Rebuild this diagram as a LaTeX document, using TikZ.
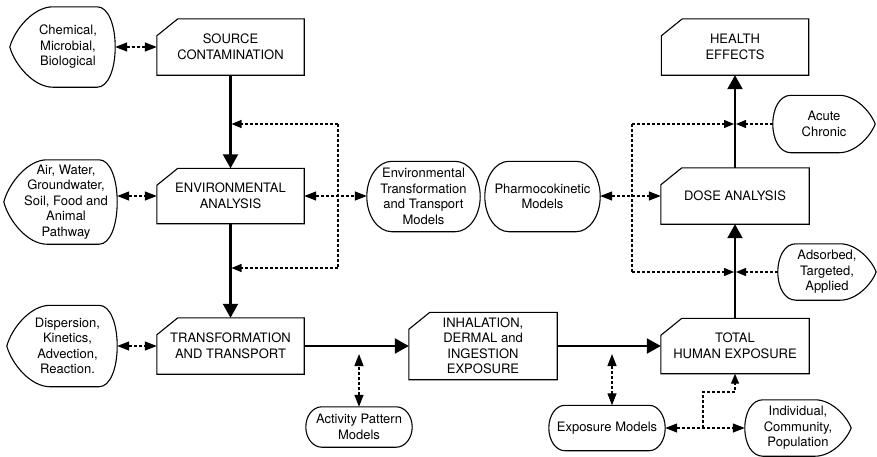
\documentclass[tikz,border=0pt]{standalone}
\usepackage{fontspec}
\setmainfont{TeX Gyre Heros}
\usetikzlibrary{arrows.meta,calc}

\tikzset{
  outline/.style={line width=1.1pt},
  txt/.style={font=\fontsize{13}{15.5}\selectfont, align=center, inner sep=0pt},
  mainbox/.style={txt, minimum width=147pt, minimum height=56pt},
  leaf/.style={txt},
  pill/.style={txt},
  mainarrow/.style={line width=2.2pt, -{Triangle[length=14pt,width=15pt]}},
  dotline/.style={line width=1.3pt, dash pattern=on 3pt off 2pt},
  dotboth/.style={dotline, {Triangle[length=12pt,width=9pt]}-{Triangle[length=12pt,width=9pt]}},
  dotto/.style={dotline, -{Triangle[length=10pt,width=8pt]}},
}

% box with the upper left corner cut off
\newcommand\chamferbox[1]{%
  \draw[outline] ($(#1.north west)+(0,17)$) -- ($(#1.north west)+(21,0)$)
    -- (#1.north east) -- (#1.south east) -- (#1.south west) -- cycle;}

% pointed on the left, rounded on the right
\newcommand\leafL[1]{%
  \draw[outline] ($(#1.west)+(-11,0)$)
    .. controls ($(#1.west)!0.45!(#1.north west)+(-6,0)$) and ($(#1.north west)+(13,0)$) .. ($(#1.north west)+(32,0)$)
    -- ($(#1.north east)+(-18,0)$)
    .. controls ($(#1.north east)+(-7,0)$) and ($(#1.east)!0.55!(#1.north east)$) .. (#1.east)
    .. controls ($(#1.east)!0.55!(#1.south east)$) and ($(#1.south east)+(-7,0)$) .. ($(#1.south east)+(-18,0)$)
    -- ($(#1.south west)+(32,0)$)
    .. controls ($(#1.south west)+(13,0)$) and ($(#1.west)!0.45!(#1.south west)+(-6,0)$) .. ($(#1.west)+(-11,0)$)
    -- cycle;}

% rounded on the left, pointed on the right
\newcommand\leafR[1]{%
  \draw[outline] (#1.east)
    .. controls ($(#1.east)!0.45!(#1.north east)+(-5,0)$) and ($(#1.north east)+(-20,0)$) .. ($(#1.north east)+(-36,0)$)
    -- ($(#1.north west)+(18,0)$)
    .. controls ($(#1.north west)+(7,0)$) and ($(#1.west)!0.55!(#1.north west)$) .. (#1.west)
    .. controls ($(#1.west)!0.55!(#1.south west)$) and ($(#1.south west)+(7,0)$) .. ($(#1.south west)+(18,0)$)
    -- ($(#1.south east)+(-36,0)$)
    .. controls ($(#1.south east)+(-20,0)$) and ($(#1.east)!0.45!(#1.south east)+(-5,0)$) .. (#1.east)
    -- cycle;}

% box with half-elliptic ends; #2 is the horizontal radius of the ends
\newcommand\pillshape[2]{%
  \draw[outline] ($(#1.north west)+(#2,0)$) -- ($(#1.north east)+(-#2,0)$)
    .. controls ($(#1.north east)+(-0.448*#2,0)$) and ($(#1.east)!0.552!(#1.north east)$) .. (#1.east)
    .. controls ($(#1.east)!0.552!(#1.south east)$) and ($(#1.south east)+(-0.448*#2,0)$) .. ($(#1.south east)+(-#2,0)$)
    -- ($(#1.south west)+(#2,0)$)
    .. controls ($(#1.south west)+(0.448*#2,0)$) and ($(#1.west)!0.552!(#1.south west)$) .. (#1.west)
    .. controls ($(#1.west)!0.552!(#1.north west)$) and ($(#1.north west)+(0.448*#2,0)$) .. ($(#1.north west)+(#2,0)$)
    -- cycle;}

\begin{document}
\begin{tikzpicture}[x=1pt, y=-1pt]
\useasboundingbox (0,0) rectangle (877,456);

% main chain
\node[mainbox] (src) at (230.5,47) {SOURCE\\CONTAMINATION};
\node[mainbox, minimum height=55pt] (env) at (230.5,196) {ENVIRONMENTAL\\ANALYSIS};
\node[mainbox] (tt) at (230.5,346) {TRANSFORMATION\\AND TRANSPORT};
\node[mainbox, minimum width=148pt, minimum height=67pt] (inh) at (483,346) {INHALATION,\\DERMAL and\\INGESTION\\EXPOSURE};
\node[mainbox, minimum width=148pt, minimum height=55pt] (tot) at (735,346) {TOTAL\\HUMAN EXPOSURE};
\node[mainbox, minimum width=148pt] (dose) at (735,196) {DOSE ANALYSIS};
\node[mainbox] (hea) at (735,47) {HEALTH\\EFFECTS};
\foreach \n in {src,env,tt,inh,tot,dose,hea} {\chamferbox{\n}}

% descriptors
\node[leaf, minimum width=94pt, minimum height=80pt] (chem) at (68,47) {Chemical,\\Microbial,\\Biological};
\node[leaf, minimum width=102pt, minimum height=84pt] (air) at (66,202) {Air, Water,\\Groundwater,\\Soil, Food and\\Animal\\Pathway};
\node[leaf, minimum width=99pt, minimum height=81pt] (disp) at (67.5,346) {Dispersion,\\Kinetics,\\Advection,\\Reaction.};
\foreach \n in {chem,air,disp} {\leafL{\n}}

\node[leaf, minimum width=102pt, minimum height=57pt] (acute) at (824,124) {Acute\\Chronic};
\node[leaf, minimum width=98pt, minimum height=56pt] (ads) at (827,272) {Adsorbed,\\Targeted,\\Applied};
\node[leaf, minimum width=106pt, minimum height=56pt] (ind) at (798,428) {Individual,\\Community,\\Population};
\foreach \n in {acute,ads,ind} {\leafR{\n}}

% models
\node[pill, minimum width=113pt, minimum height=70pt] (ett) at (423.5,196.5) {Environmental\\Transformation\\and Transport\\Models};
\node[pill, minimum width=115pt, minimum height=70pt] (pk) at (542.5,196.5) {Pharmocokinetic\\Models};
\node[pill, minimum width=106pt, minimum height=40pt] (act) at (359,427) {Activity Pattern\\Models};
\node[pill, minimum width=116pt, minimum height=45pt] (expm) at (607,428) {Exposure Models};
\pillshape{ett}{25}
\pillshape{pk}{24}
\pillshape{act}{16}
\pillshape{expm}{16}

% main flow
\draw[mainarrow] (src) -- (env);
\draw[mainarrow] (env) -- (tt);
\draw[mainarrow] (tt) -- (inh);
\draw[mainarrow] (inh) -- (tot);
\draw[mainarrow] (tot) -- (dose);
\draw[mainarrow] (dose) -- (hea);

% descriptor links
\draw[dotboth] (chem.east) -- (src.west);
\draw[dotboth] (env.west -| air.east) -- (env.west);
\draw[dotboth] (disp.east) -- (tt.west);

% environmental model feedback
\coordinate (fbLt) at (338,124);
\coordinate (fbLb) at (338,268);
\draw[dotboth] (env.east) -- (env.east -| ett.west);
\draw[dotline] (fbLt) -- (fbLb);
\draw[dotto] (fbLt) -- ($(fbLt -| src.south)+(1,0)$);
\draw[dotto] (fbLb) -- ($(fbLb -| env.south)+(1,0)$);

% pharmacokinetic feedback
\coordinate (fbRt) at (632,124);
\coordinate (fbRb) at (632,272);
\draw[dotboth] (dose.west -| pk.east) -- (dose.west);
\draw[dotline] (fbRt) -- (fbRb);
\draw[dotto] (fbRt) -- ($(fbRt -| hea.south)+(-1,0)$);
\draw[dotto] (fbRb) -- ($(fbRb -| dose.south)+(-1,0)$);
\draw[dotto] (acute.west) -- ($(acute.west -| hea.south)+(1,0)$);
\draw[dotto] (ads.west) -- ($(ads.west -| dose.south)+(1,0)$);

% exposure side models
\draw[dotboth] (act.north) -- ($(act.north |- tt.east)+(0,8)$);
\draw[dotboth] ($(expm.north)+(5,0)$) -- ($(expm.north |- inh.east)+(5,8)$);
\draw[dotboth] (expm.east) -- (expm.east -| ind.west);
\coordinate (br) at (703,428);
\coordinate (bend) at (703,392);
\draw[dotto] (br) -- (bend) -| (tot.south);
\end{tikzpicture}
\end{document}
